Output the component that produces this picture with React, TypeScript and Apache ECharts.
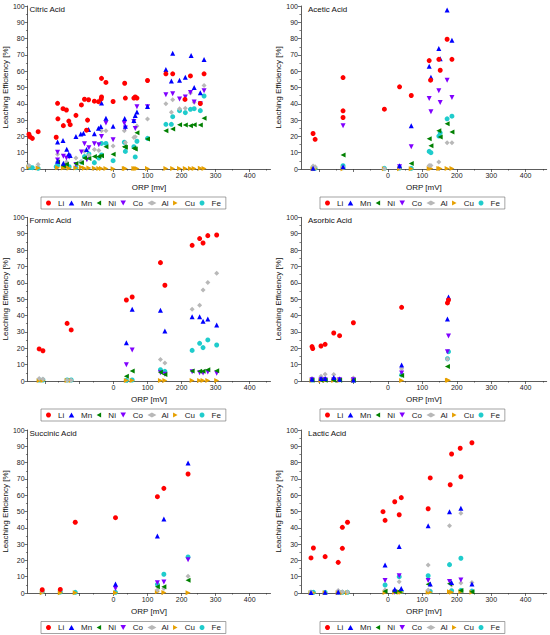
import React, { useEffect, useRef } from "react";
import * as echarts from "echarts";

// ---------- data ----------
const elements = ["Li", "Mn", "Ni", "Co", "Al", "Cu", "Fe"];
const titles = ["Citric Acid", "Acetic Acid", "Formic Acid", "Asorbic Acid", "Succinic Acid", "Lactic Acid"];
const xNames = ["ORP [mv]", "ORP [mV]", "ORP [mV]", "ORP [mV]", "ORP [mV]", "ORP [mV]"];
const majorXTicks = [-200, -100, 0, 100, 200, 300, 400];
const minorXTicks = [-150, -50, 50, 150, 250, 350, 450];
const xLabelValues = [0, 100, 200, 300, 400];

// Citric
const citricLi = [[-248,21.3],[-245,19.8],[-238,18.8],[-221,22.9],[-168,19.5],[-164,40.3],[-163,30.8],[-148,37.0],[-147,26.6],[-138,36.2],[-131,29.4],[-127,27.2],[-110,32.9],[-94,39.3],[-85,42.8],[-79,23.8],[-76,30.0],[-73,42.5],[-56,41.6],[-44,41.3],[-36,43.0],[-35,44.2],[-35,55.6],[-22,53.1],[-1,41.4],[33,52.6],[35,43.5],[60,43.5],[64,44.2],[69,43.5],[100,54.3],[154,58.4],[174,58.4],[210,42.7],[226,57.1],[255,40.2],[266,58.4]];
const citricMn = [[-164,16.6],[-164,4.7],[-148,17.5],[-147,3.5],[-137,12.1],[-131,9.2],[-127,8.3],[-110,20.0],[-96,21.4],[-88,22.0],[-79,11.9],[-73,24.2],[-56,21.7],[-44,25.0],[-37,26.0],[-35,40.5],[-22,31.2],[-1,26.2],[33,31.0],[35,26.2],[60,29.7],[64,32.8],[69,35.0],[100,38.4],[154,61.1],[170,54.0],[174,71.0],[194,54.4],[211,56.3],[228,69.7],[237,50.0],[255,46.8],[266,67.2]];
const citricNi = [[-164,4.3],[-147,2.0],[-138,2.9],[-110,3.3],[-94,3.9],[-85,6.7],[-72,6.5],[-56,7.6],[-43,7.6],[-35,8.2],[-22,13.7],[-1,9.0],[32,13.7],[35,13.3],[60,12.7],[64,12.3],[69,22.3],[100,18.4],[154,23.5],[174,24.5],[194,27.2],[211,27.0],[226,26.6],[237,27.2],[255,27.0],[266,31.1]];
const citricCo = [[-164,10.2],[-164,5.5],[-147,7.8],[-138,6.7],[-130,7.4],[-110,2.7],[-94,10.4],[-85,15.5],[-78,5.7],[-72,13.1],[-56,15.5],[-43,14.9],[-35,20.0],[-22,28.2],[-1,18.0],[32,28.0],[35,25.2],[60,29.2],[64,24.9],[69,38.2],[100,38.2],[154,45.6],[174,46.2],[194,43.0],[211,44.2],[226,47.0],[237,41.1],[255,40.0],[266,48.0]];
const citricAl = [[-248,2.2],[-221,2.7],[-164,9.0],[-147,2.7],[-138,4.3],[-110,6.7],[-94,4.5],[-85,10.8],[-72,8.4],[-56,12.0],[-43,11.3],[-35,23.5],[-22,23.5],[-1,14.1],[32,23.5],[35,16.2],[60,19.4],[64,19.8],[69,26.4],[100,30.7],[154,40.1],[170,34.8],[174,42.5],[194,37.0],[211,37.2],[226,46.6],[237,40.9],[255,40.1],[266,51.3]];
const citricCu = [[-248,1.2],[-221,0.6],[-164,0.8],[-147,0.6],[-138,1.2],[-130,0.4],[-110,0.6],[-94,1.0],[-85,0.4],[-72,0.6],[-56,0.4],[-43,0.3],[-35,0.3],[-22,0.3],[-1,0.2],[32,0.3],[35,0.3],[60,0.3],[64,0.3],[69,0.3],[100,0.3],[154,0.3],[174,0.3],[194,0.3],[211,0.3],[226,0.3],[237,0.3],[255,0.4],[266,0.3]];
const citricFe = [[-248,1.6],[-245,1.0],[-238,0.8],[-221,0.4],[-168,1.4],[-164,2.2],[-147,1.4],[-138,1.8],[-130,1.4],[-110,0.8],[-94,4.3],[-85,7.6],[-72,9.2],[-56,3.9],[-43,6.7],[-35,15.7],[-35,8.6],[-22,15.7],[-1,5.1],[32,16.4],[35,10.8],[60,13.7],[64,7.4],[69,17.0],[100,18.8],[154,27.4],[170,27.4],[174,32.1],[194,35.8],[211,34.6],[226,36.6],[237,37.0],[255,35.8],[266,44.8]];

// Acetic
const aceticLi = [[-217,21.8],[-211,18.2],[-130,56.1],[-130,35.7],[-130,31.6],[-10,36.7],[34,50.4],[68,45.1],[120,66.5],[124,54.5],[148,67.3],[152,60.6],[172,79.6],[186,67.3]];
const aceticMn = [[-217,0.4],[-130,1.4],[34,2.0],[68,26.5],[120,63.1],[125,56.3],[148,73.9],[152,67.6],[172,97.6],[186,79.0]];
const aceticNi = [[-130,8.6],[68,3.3],[120,18.6],[125,14.3],[148,23.5],[152,19.6],[172,27.8],[186,22.7]];
const aceticCo = [[-130,26.5],[34,1.4],[68,13.7],[120,43.3],[125,35.1],[148,48.0],[152,40.8],[172,54.5],[186,43.9]];
const aceticAl = [[-217,1.8],[-211,1.4],[-130,1.0],[-10,0.2],[34,1.0],[120,2.2],[125,2.2],[148,4.3],[172,16.1],[186,16.1]];
const aceticCu = [[-217,0.2],[-211,0.2],[-130,0.2],[-10,0.2],[34,0.2],[68,0.2],[120,0.3],[125,0.3],[148,0.3],[152,0.3],[172,0.3],[186,0.3]];
const aceticFe = [[-217,0.6],[-211,0.4],[-130,2.0],[-130,0.8],[-10,0.4],[34,0.6],[68,0.4],[120,10.8],[125,10.0],[148,20.2],[152,22.2],[172,30.8],[186,32.4]];

// Formic
const formicLi = [[-218,19.6],[-207,18.5],[-136,35.2],[-124,31.2],[38,49.5],[55,51.3],[138,72.3],[151,58.5],[231,82.9],[253,87.0],[263,84.3],[277,88.8],[303,89.2]];
const formicMn = [[38,23.4],[55,43.8],[138,43.2],[151,30.5],[231,39.3],[253,39.3],[263,36.5],[277,37.9],[303,34.2]];
const formicNi = [[38,2.9],[55,6.1],[138,5.3],[151,3.9],[231,6.1],[253,5.9],[263,5.9],[277,6.9],[303,6.3]];
const formicCo = [[38,10.0],[55,18.9],[138,5.1],[151,4.1],[231,5.7],[253,5.1],[263,4.9],[277,5.5],[303,4.7]];
const formicAl = [[-218,1.6],[-207,1.2],[-136,0.5],[-124,0.5],[138,13.2],[151,11.0],[231,43.8],[253,46.2],[263,55.6],[277,60.1],[303,65.8]];
const formicCu = [[-218,0.3],[-207,0.3],[-136,0.3],[-124,0.3],[38,0.3],[55,0.3],[138,0.3],[151,0.3],[231,0.3],[253,0.3],[263,0.3],[277,0.3],[303,0.3]];
const formicFe = [[-218,0.6],[-207,0.6],[-136,0.6],[-124,0.6],[38,0.4],[55,0.6],[138,6.9],[151,5.9],[231,18.7],[253,23.0],[263,20.4],[277,25.1],[303,22.0]];

// Ascorbic
const ascorbicLi = [[-220,21.0],[-218,19.8],[-194,21.4],[-182,22.4],[-157,29.3],[-140,27.7],[-100,35.6],[40,45.0],[173,47.7],[176,49.5]];
const ascorbicMn = [[-220,1.0],[-194,1.6],[-182,1.6],[-157,2.2],[-140,1.0],[-100,0.6],[40,9.8],[173,37.9],[176,51.3]];
const ascorbicNi = [[-220,0.5],[-194,0.5],[-182,0.5],[-157,0.5],[-140,0.5],[-100,0.5],[40,3.3],[173,8.8]];
const ascorbicCo = [[-220,0.8],[-194,0.8],[-182,0.8],[-157,0.8],[-140,0.8],[-100,0.8],[40,4.9],[173,17.9],[176,27.5]];
const ascorbicAl = [[-220,1.6],[-194,2.9],[-182,4.1],[-157,3.9],[-140,1.4],[-100,1.8],[40,7.5],[173,13.4]];
const ascorbicCu = [[-220,0.3],[-194,0.3],[-182,0.3],[-157,0.3],[-140,0.3],[-100,0.3],[40,0.3],[173,0.4],[176,0.4]];
const ascorbicFe = [[-220,0.6],[-194,1.0],[-182,1.0],[-157,1.0],[-140,0.8],[-100,0.6],[40,3.7],[173,13.6],[176,17.9]];

// Succinic
const succinicLi = [[-209,2.0],[-156,2.2],[-112,43.4],[6,46.2],[129,59.1],[148,64.2],[219,73.0]];
const succinicMn = [[6,5.5],[129,35.0],[148,45.4],[219,79.8]];
const succinicNi = [[129,3.9],[148,3.9],[219,7.8]];
const succinicCo = [[6,2.7],[129,6.3],[148,6.7],[219,20.4]];
const succinicAl = [[-209,1.0],[129,1.8],[148,2.7],[219,10.2]];
const succinicCu = [[-209,0.2],[-156,0.2],[-112,0.2],[6,0.2],[129,0.8],[148,0.3],[219,0.2]];
const succinicFe = [[-209,0.8],[-156,0.6],[-112,0.4],[6,0.4],[129,5.3],[148,11.5],[219,22.1]];

// Lactic
const lacticLi = [[-223,21.5],[-216,27.6],[-182,22.3],[-144,18.8],[-132,40.3],[-132,27.4],[-117,43.4],[-14,49.9],[-8,44.6],[20,56.0],[33,48.0],[39,58.5],[117,51.7],[123,70.6],[181,66.4],[185,85.3],[210,88.8],[212,71.3],[244,92.2]];
const lacticMn = [[-223,0.3],[-182,0.4],[-144,0.6],[-8,17.2],[20,2.3],[33,28.6],[39,2.7],[117,41.3],[123,5.5],[179,49.9],[185,6.5],[212,52.0],[244,5.5]];
const lacticNi = [[-8,1.0],[20,0.8],[33,1.2],[117,5.3],[179,5.7],[212,1.5],[244,0.8]];
const lacticCo = [[-8,7.6],[20,0.5],[33,10.6],[117,7.6],[179,7.0],[212,8.0]];
const lacticAl = [[-223,0.6],[-144,1.6],[-132,0.8],[-117,0.6],[-8,1.8],[33,6.9],[117,17.2],[117,1.8],[179,41.3],[185,4.9],[212,48.9],[212,6.1],[244,6.5]];
const lacticCu = [[-223,0.2],[-216,0.2],[-182,0.2],[-144,0.2],[-132,0.2],[-117,0.2],[-8,0.3],[20,0.4],[33,0.5],[39,0.5],[117,0.5],[123,0.4],[179,0.8],[185,0.5],[212,0.8],[244,0.5]];
const lacticFe = [[-223,0.4],[-216,0.4],[-182,0.3],[-144,0.5],[-132,0.4],[-117,0.4],[-8,4.9],[20,1.0],[33,10.0],[39,1.0],[117,10.6],[123,1.0],[179,17.4],[185,1.4],[212,21.3],[212,1.6],[244,1.2]];

const panelData = [
  [citricLi, citricMn, citricNi, citricCo, citricAl, citricCu, citricFe],
  [aceticLi, aceticMn, aceticNi, aceticCo, aceticAl, aceticCu, aceticFe],
  [formicLi, formicMn, formicNi, formicCo, formicAl, formicCu, formicFe],
  [ascorbicLi, ascorbicMn, ascorbicNi, ascorbicCo, ascorbicAl, ascorbicCu, ascorbicFe],
  [succinicLi, succinicMn, succinicNi, succinicCo, succinicAl, succinicCu, succinicFe],
  [lacticLi, lacticMn, lacticNi, lacticCo, lacticAl, lacticCu, lacticFe],
];

// ---------- styles ----------
const symbols = [
  "circle",
  "path://M5,0 L10,9 L0,9 Z",
  "path://M0,5 L9,0 L9,10 Z",
  "path://M0,0 L10,0 L5,9 Z",
  "diamond",
  "path://M0,0 L9,5 L0,10 Z",
  "circle",
];
const colors = ["#ff0000", "#0000ff", "#008000", "#8000ff", "#b8b8b8", "#e6a000", "#1fcccc"];

const FONT = "'Liberation Sans', Arial, sans-serif";
const AXIS_COLOR = "#333";
const X_MIN = -252;
const X_MAX = 461;

const colLeft = [22.5, 301];
const colWidth = [248, 245.7];
const rowTop = [6, 217.3, 430];
const rowHeight = [163, 163.7, 163];
const legendLeft = [41, 320];
const legendTop = [197, 409, 621.5];

export default function App() {
  const ref = useRef<HTMLDivElement>(null);

  useEffect(() => {
    if (!ref.current) return;
    const chart = echarts.init(ref.current, undefined, { renderer: "svg" });

    const grids: any[] = [];
    const xAxes: any[] = [];
    const yAxes: any[] = [];
    const series: any[] = [];
    const legends: any[] = [];
    const titleOpts: any[] = [];

    for (let k = 0; k < 2; k++) {
      for (let p = 0; p < 6; p++) {
        const col = p % 2;
        const row = Math.floor(p / 2);
        grids.push({ left: colLeft[col], top: rowTop[row], width: colWidth[col], height: rowHeight[row], containLabel: false });
      }
    }

    for (let p = 0; p < 6; p++) {
      const col = p % 2;
      const row = Math.floor(p / 2);
      xAxes.push({
        type: "value",
        gridIndex: p,
        min: X_MIN,
        max: X_MAX,
        name: xNames[p],
        nameLocation: "middle",
        nameGap: 14,
        nameTextStyle: { fontSize: 8, color: "#111", fontFamily: FONT },
        axisLine: { show: true, onZero: false, lineStyle: { color: AXIS_COLOR, width: 0.8 } },
        axisTick: { show: true, customValues: majorXTicks, length: 3, lineStyle: { color: AXIS_COLOR, width: 0.7 } },
        axisLabel: { show: true, customValues: xLabelValues, fontSize: 7, color: "#222", margin: 3, fontFamily: FONT },
        splitLine: { show: false },
      });
      yAxes.push({
        type: "value",
        gridIndex: p,
        min: 0,
        max: 100,
        interval: 10,
        name: "Leaching Efficiency [%]",
        nameLocation: "middle",
        nameGap: 13,
        nameTextStyle: { fontSize: 8, color: "#111", fontFamily: FONT },
        axisLine: { show: true, onZero: false, lineStyle: { color: AXIS_COLOR, width: 0.8 } },
        axisTick: { show: true, length: 3, lineStyle: { color: AXIS_COLOR, width: 0.7 } },
        minorTick: { show: true, splitNumber: 2, length: 1.6, lineStyle: { color: AXIS_COLOR, width: 0.6 } },
        axisLabel: { fontSize: 7, color: "#222", margin: 3, fontFamily: FONT },
        splitLine: { show: false },
      });
      titleOpts.push({
        text: titles[p],
        left: colLeft[col] + 7,
        top: rowTop[row] - 1,
        padding: 0,
        textStyle: { fontSize: 8, fontWeight: "normal", color: "#111", fontFamily: FONT },
      });
      legends.push({
        left: legendLeft[col],
        top: legendTop[row],
        orient: "horizontal",
        data: elements,
        itemWidth: 9,
        itemHeight: 5,
        itemGap: 4.5,
        padding: [2, 5],
        borderColor: "#666",
        borderWidth: 0.6,
        selectedMode: false,
        textStyle: { fontSize: 8, color: "#222", fontFamily: FONT },
      });
      const arrs = panelData[p];
      for (let e = 0; e < elements.length; e++) {
        series.push({
          type: "scatter",
          name: elements[e],
          xAxisIndex: p,
          yAxisIndex: p,
          symbol: symbols[e],
          symbolSize: 5,
          itemStyle: { color: colors[e], opacity: 1 },
          data: arrs[e],
          z: 2 + (6 - e) * 0.01,
        });
      }
    }
    // minor x ticks on overlay grids
    for (let p = 0; p < 6; p++) {
      xAxes.push({
        type: "value",
        gridIndex: 6 + p,
        min: X_MIN,
        max: X_MAX,
        axisLine: { show: false, onZero: false },
        axisTick: { show: true, customValues: minorXTicks, length: 1.6, lineStyle: { color: AXIS_COLOR, width: 0.6 } },
        axisLabel: { show: false },
        splitLine: { show: false },
      });
      yAxes.push({
        type: "value",
        gridIndex: 6 + p,
        min: 0,
        max: 100,
        show: false,
      });
    }

    chart.setOption({
      animation: false,
      backgroundColor: "#ffffff",
      textStyle: { fontFamily: FONT },
      title: titleOpts,
      grid: grids,
      xAxis: xAxes,
      yAxis: yAxes,
      legend: legends,
      series,
    });

    return () => {
      chart.dispose();
    };
  }, []);

  return (
    <div
      ref={ref}
      style={{ position: "absolute", left: 0, top: 0, width: 550, height: 635 }}
    />
  );
}
